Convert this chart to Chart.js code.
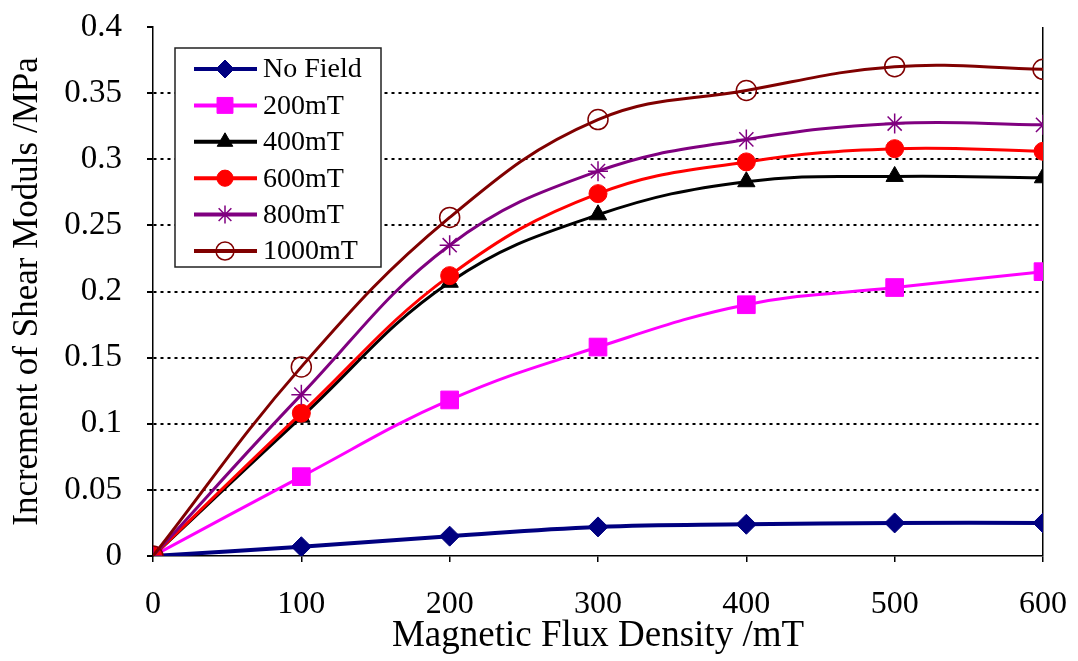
<!DOCTYPE html>
<html>
<head>
<meta charset="utf-8">
<script src="https://cdn.jsdelivr.net/npm/chart.js@4.4.1/dist/chart.umd.min.js"></script>
<style>
  body { margin: 0; background: #fff; }
  #wrap { width: 1078px; height: 661px; }
</style>
</head>
<body>
<div id="wrap"><canvas id="myChart"></canvas></div>
<script>
var fluxLabels = [0, 100, 200, 300, 400, 500, 600];
var seriesNames = ["No Field", "200mT", "400mT", "600mT", "800mT", "1000mT"];
var yTicks = [0, 0.05, 0.1, 0.15, 0.2, 0.25, 0.3, 0.35, 0.4];

var noField = [0, 0.007, 0.015, 0.022, 0.024, 0.025, 0.025];
var mt200 = [0, 0.060, 0.118, 0.158, 0.190, 0.203, 0.215];
var mt400 = [0, 0.105, 0.207, 0.258, 0.283, 0.287, 0.286];
var mt600 = [0, 0.108, 0.212, 0.274, 0.298, 0.308, 0.306];
var mt800 = [0, 0.122, 0.235, 0.291, 0.315, 0.327, 0.326];
var mt1000 = [0, 0.143, 0.256, 0.330, 0.352, 0.370, 0.368];

var colors = ['#000080', '#FF00FF', '#000000', '#FF0000', '#800080', '#800000'];
var markers = ['rectRot', 'rect', 'triangle', 'circle', 'star', 'circle'];
var sizes = [10, 12.5, 10, 9, 10, 10];

function pairs(vals) {
  return vals.map(function(v, i) { return { x: fluxLabels[i], y: v }; });
}

var allSeries = [noField, mt200, mt400, mt600, mt800, mt1000];
var datasets = [];
for (var i = 0; i < allSeries.length; i++) {
  var hollow = (i == 4 || i == 5);
  datasets.push({
    label: seriesNames[i],
    data: pairs(allSeries[i]),
    borderColor: colors[i],
    backgroundColor: hollow ? 'rgba(0,0,0,0)' : colors[i],
    pointBorderColor: colors[i],
    pointBackgroundColor: hollow ? 'rgba(0,0,0,0)' : colors[i],
    pointStyle: markers[i],
    pointRadius: sizes[i],
    pointBorderWidth: hollow ? 1.5 : 1,
    borderWidth: i == 0 ? 4 : 3,
    tension: 0.4,
    order: 6 - i
  });
}

// legend box drawn by hand so each entry shows line + marker
var boxLegend = {
  id: 'boxLegend',
  afterDraw: function(chart) {
    var ctx = chart.ctx;
    ctx.save();
    ctx.fillStyle = '#fff';
    ctx.fillRect(175, 48, 206, 219);
    ctx.strokeStyle = '#222';
    ctx.lineWidth = 1.5;
    ctx.strokeRect(175, 48, 206, 219);
    ctx.font = '28px "Liberation Serif"';
    ctx.textBaseline = 'middle';
    for (var i = 0; i < chart.data.datasets.length; i++) {
      var ds = chart.data.datasets[i];
      var y = 69 + i * 36.4;
      ctx.strokeStyle = ds.borderColor;
      ctx.lineWidth = 4;
      ctx.beginPath();
      ctx.moveTo(194, y);
      ctx.lineTo(257, y);
      ctx.stroke();
      ctx.fillStyle = ds.pointBackgroundColor;
      ctx.strokeStyle = ds.pointBorderColor;
      ctx.lineWidth = ds.pointBorderWidth;
      Chart.helpers.drawPoint(ctx, {
        pointStyle: ds.pointStyle,
        radius: ds.pointRadius * 0.9,
        borderWidth: ds.pointBorderWidth,
        rotation: 0
      }, 225, y);
      ctx.fillStyle = '#000';
      ctx.fillText(ds.label, 263, y + 1);
    }
    ctx.restore();
  }
};

var ctx = document.getElementById('myChart').getContext('2d');
var chart = new Chart(ctx, {
  type: 'line',
  data: { datasets: datasets },
  plugins: [boxLegend],
  options: {
    responsive: true,
    maintainAspectRatio: false,
    animation: false,
    layout: { padding: { top: 27, right: 35, left: 0, bottom: 0 } },
    plugins: {
      legend: { display: false },
      tooltip: { enabled: false }
    },
    scales: {
      x: {
        type: 'linear',
        min: 0,
        max: 600,
        afterFit: function(scale) {
          scale.height = 105;
          scale.paddingLeft = 0;
          scale.paddingRight = 0;
        },
        ticks: {
          stepSize: 100,
          color: '#000',
          padding: 23,
          font: { family: 'Liberation Serif', size: 32 }
        },
        grid: {
          color: function(c) { return c.tick && c.tick.value == 600 ? '#000' : 'rgba(0,0,0,0)'; },
          tickColor: '#000',
          tickLength: 6,
          lineWidth: 1.5
        },
        border: { color: '#000', width: 1.5 },
        title: {
          display: true,
          text: 'Magnetic Flux Density /mT',
          color: '#000',
          padding: { top: 0, bottom: 3 },
          font: { family: 'Liberation Serif', size: 37 }
        }
      },
      y: {
        min: 0,
        max: 0.4,
        afterFit: function(scale) {
          scale.width = 153;
          scale.paddingTop = 0;
          scale.paddingBottom = 0;
        },
        afterBuildTicks: function(scale) {
          scale.ticks = yTicks.map(function(v) { return { value: v }; });
        },
        ticks: {
          color: '#000',
          padding: 25,
          font: { family: 'Liberation Serif', size: 33 },
          callback: function(v) { return String(Number(v.toFixed(2))); }
        },
        grid: {
          color: function(c) {
            var v = c.tick ? c.tick.value : 0;
            return (v < 0.01 || v > 0.39) ? 'rgba(0,0,0,0)' : '#000';
          },
          tickColor: '#000',
          tickLength: 6,
          lineWidth: 2,
          tickBorderDash: []
        },
        border: { color: '#000', width: 1.5, dash: [3, 4] },
        title: {
          display: true,
          text: 'Increment of Shear Moduls /MPa',
          color: '#000',
          padding: { top: 7, bottom: 0 },
          font: { family: 'Liberation Serif', size: 35 }
        }
      }
    }
  }
});
</script>
</body>
</html>
